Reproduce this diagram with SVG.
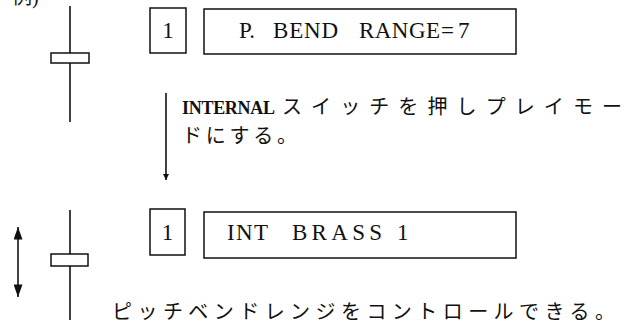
<svg xmlns="http://www.w3.org/2000/svg" width="624" height="323" viewBox="0 0 624 323">
<style>
.ln{stroke:#111;stroke-width:1.6;fill:none}
.bx{stroke:#111;stroke-width:1.5;fill:#fff}
.lat{font-family:"Liberation Serif","Noto Sans CJK JP",serif;font-size:23px;fill:#111}
.jp{font-family:"Liberation Serif","Noto Sans CJK JP",serif;font-size:20px;fill:#111}
.b{font-weight:bold;font-size:18px}
</style>
<defs>
<marker id="ah" viewBox="0 0 10 10" refX="10" refY="5" markerWidth="6" markerHeight="6" markerUnits="userSpaceOnUse" orient="auto">
<path d="M0,0 L10,5 L0,10 z" fill="#111"/>
</marker>
<marker id="ahBig" viewBox="0 0 14 10" refX="14" refY="5" markerWidth="13" markerHeight="9" markerUnits="userSpaceOnUse" orient="auto-start-reverse">
<path d="M0,0 L14,5 L0,10 z" fill="#111"/>
</marker>
</defs>
<text class="jp" x="12" y="4" style="font-size:20px">例)</text>

<g id="slider1">
<line class="ln" x1="70" y1="6" x2="70" y2="122"/>
<rect class="bx" x="51" y="53" width="38" height="10"/>
</g>
<g id="num1">
<rect class="bx" x="150" y="8" width="36" height="45"/>
<text class="lat" x="168" y="38" text-anchor="middle">1</text>
</g>
<g id="display1">
<rect class="bx" x="204" y="9" width="312" height="45"/>
<text class="lat" x="239" y="38">P.</text>
<text class="lat" x="273" y="38" textLength="65" lengthAdjust="spacing">BEND</text>
<text class="lat" x="359" y="38" textLength="81" lengthAdjust="spacing">RANGE</text>
<text class="lat" x="441" y="38">=</text>
<text class="lat" x="458" y="38">7</text>
</g>

<g id="connectors">
<line class="ln" x1="166" y1="93" x2="166" y2="180" marker-end="url(#ah)"/>
<line class="ln" x1="18" y1="227" x2="18" y2="297" marker-start="url(#ahBig)" marker-end="url(#ahBig)"/>
</g>

<g id="step-text">
<text class="jp b" x="182" y="114" textLength="93" lengthAdjust="spacing">INTERNAL</text>
<text class="jp" x="282" y="114" textLength="340" lengthAdjust="spacing">スイッチを押しプレイモー</text>
<text class="jp" x="182" y="143" textLength="115" lengthAdjust="spacing">ドにする。</text>
</g>

<g id="slider2">
<line class="ln" x1="70" y1="210" x2="70" y2="320"/>
<rect class="bx" x="51" y="254" width="37" height="12"/>
</g>
<g id="num2">
<rect class="bx" x="150" y="209" width="35" height="46"/>
<text class="lat" x="167.5" y="240" text-anchor="middle">1</text>
</g>
<g id="display2">
<rect class="bx" x="204" y="212" width="312" height="46"/>
<text class="lat" x="227" y="240" textLength="41" lengthAdjust="spacing">INT</text>
<text class="lat" x="292" y="240" textLength="90" lengthAdjust="spacing">BRASS</text>
<text class="lat" x="397" y="240">1</text>
</g>
<text class="jp" x="112" y="319" textLength="503" lengthAdjust="spacing">ピッチベンドレンジをコントロールできる。</text>
</svg>
